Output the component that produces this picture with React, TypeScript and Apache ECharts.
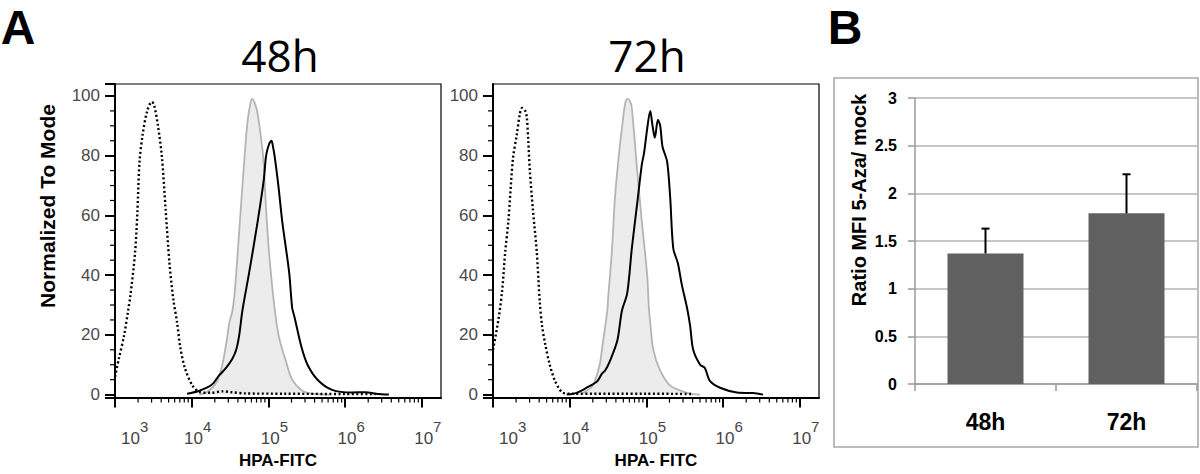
import React, { useEffect, useRef } from "react";
import * as echarts from "echarts";

// ---------- Panel A: histogram axes (x in log10 units of HPA-FITC) ----------
const decadeTicks = [3, 4, 5, 6, 7];
const yTicksHist = [0, 20, 40, 60, 80, 100];
const yMinorHist = [5, 10, 15, 25, 30, 35, 45, 50, 55, 65, 70, 75, 85, 90, 95];

// 48h — [log10(HPA-FITC), % of mode]
const iso48 = [
  [3.0, 6], [3.05, 12], [3.12, 20], [3.17, 28], [3.2, 33], [3.26, 47], [3.29, 60], [3.32, 78],
  [3.36, 87], [3.42, 95], [3.48, 98], [3.51, 97], [3.56, 90], [3.61, 80], [3.66, 62], [3.71, 44],
  [3.76, 32], [3.81, 24], [3.85, 16], [3.91, 9], [4.01, 3], [4.11, 0.8], [4.25, 0.6], [4.4, 1.1],
  [4.52, 0.8], [4.7, 0.4], [5.2, 0.3], [6.0, 0.2], [6.4, 0.2],
];
const mock48 = [
  [4.1, 0], [4.19, 0.7], [4.32, 4], [4.39, 9], [4.45, 17], [4.49, 24], [4.53, 28], [4.56, 34],
  [4.62, 55], [4.69, 80], [4.73, 92], [4.77, 98], [4.79, 99], [4.83, 97], [4.86, 94], [4.93, 80],
  [4.97, 62], [5.01, 47], [5.08, 29], [5.14, 19], [5.23, 11], [5.31, 5], [5.44, 1.3], [5.57, 0.3],
  [5.79, 0],
];
const aza48 = [
  [3.94, 0.3], [4.1, 1.3], [4.26, 3.3], [4.36, 6.5], [4.45, 9], [4.53, 12], [4.58, 15], [4.62, 20],
  [4.66, 28], [4.75, 41], [4.86, 58], [4.94, 72], [4.97, 80], [5.01, 84], [5.04, 85], [5.06, 83],
  [5.08, 80], [5.13, 70], [5.18, 58], [5.27, 41], [5.31, 29], [5.34, 26], [5.43, 16], [5.51, 10],
  [5.64, 5], [5.83, 1.6], [6.09, 0.7], [6.27, 0.8], [6.4, 0.3], [6.57, 0],
];

// 72h
const iso72 = [
  [3.0, 15], [3.07, 25], [3.12, 35], [3.16, 48], [3.2, 58], [3.26, 79], [3.31, 87], [3.35, 94],
  [3.38, 96], [3.42, 95], [3.44, 93], [3.46, 85], [3.48, 75], [3.52, 62], [3.57, 48], [3.61, 31],
  [3.64, 23], [3.68, 17], [3.74, 10], [3.81, 4.5], [3.9, 0.8], [4.0, 0.3], [5.0, 0.3], [5.6, 0.2],
];
const mock72 = [
  [4.17, 0.5], [4.3, 3], [4.39, 10], [4.43, 17], [4.49, 28], [4.5, 32], [4.55, 48], [4.59, 66],
  [4.64, 80], [4.68, 89], [4.72, 97], [4.75, 99], [4.79, 98], [4.81, 96], [4.88, 75], [4.94, 58],
  [5.01, 40], [5.03, 30], [5.05, 24], [5.09, 15], [5.18, 8], [5.31, 3], [5.53, 0.6], [5.7, 0],
];
const aza72 = [
  [3.96, 0], [4.09, 0.6], [4.22, 2.3], [4.36, 4.5], [4.42, 7], [4.46, 8], [4.52, 11], [4.62, 18],
  [4.68, 28], [4.75, 34], [4.81, 49], [4.88, 64], [4.94, 77], [4.97, 81], [5.01, 89], [5.05, 95],
  [5.08, 90], [5.11, 86], [5.15, 92], [5.18, 90], [5.21, 83], [5.27, 78], [5.31, 66], [5.35, 49],
  [5.41, 44], [5.46, 37], [5.53, 29], [5.57, 23], [5.61, 15], [5.7, 10], [5.76, 9], [5.83, 4.5],
  [5.96, 2.3], [6.18, 0.7], [6.39, 0.5], [6.52, 0],
];

// ---------- Panel B ----------
const barCats = ["48h", "72h"];
const barVals = [1.37, 1.79];
const barErr = [0.26, 0.41];

const ARIAL = '"Liberation Sans", Arial, sans-serif';

// log-decade minor tick positions (axis scale, not data)
const logMinor: number[] = [];
for (let d = 3; d < 7.25; d++) {
  for (let k = 2; k <= 9; k++) {
    const v = d + Math.log10(k);
    if (v < 7.25) logMinor.push(v);
  }
}

const expLabel = (v: number) => {
  const e = Math.round(v);
  return e === 3 ? `{q| }{a|10}{b|${e}}` : `{p| }{a|10}{b|${e}}`;
};

function histAxes(gi: number, topTick: boolean, name: string) {
  const x = {
    type: "value",
    gridIndex: gi,
    min: 3,
    max: 7.25,
    interval: 1,
    name,
    nameLocation: "middle",
    nameGap: 54,
    nameTextStyle: { fontFamily: ARIAL, fontWeight: "bold", fontSize: 17, color: "#000" },
    axisLine: { onZero: false, lineStyle: { color: "#000", width: 2 } },
    axisTick: { customValues: decadeTicks, length: 10, lineStyle: { color: "#000", width: 2 } },
    axisLabel: {
      customValues: decadeTicks,
      formatter: expLabel,
      margin: 21,
      color: "#444",
      alignMinLabel: "left",
      rich: {
        p: { width: 12, fontSize: 17, lineHeight: 40 },
        q: { width: 6, fontSize: 17, lineHeight: 40 },
        a: { fontSize: 17, lineHeight: 40, fontFamily: ARIAL, color: "#444" },
        b: { fontSize: 15, lineHeight: 14, verticalAlign: "top", fontFamily: ARIAL, color: "#444" },
      },
    },
    splitLine: { show: false },
  };
  const yTickVals = topTick ? [-1, ...yTicksHist, 104] : [-1, ...yTicksHist];
  const y = {
    type: "value",
    gridIndex: gi,
    min: -1,
    max: 104,
    interval: 20,
    axisLine: { lineStyle: { color: "#000", width: 2 } },
    axisTick: { customValues: yTickVals, length: 10, lineStyle: { color: "#000", width: 2 } },
    axisLabel: {
      customValues: yTicksHist,
      margin: 15,
      color: "#4a4a4a",
      fontSize: 17,
      fontFamily: ARIAL,
    },
    splitLine: { show: false },
  };
  return { x, y };
}

function minorTicks(gi: number, dir: "x" | "y", values: number[]) {
  return {
    type: "custom",
    xAxisIndex: gi,
    yAxisIndex: gi,
    silent: true,
    clip: false,
    z: 5,
    data: values.map((v) => (dir === "x" ? [v, -1] : [3, v])),
    renderItem: (_p: any, api: any) => {
      const pt = api.coord([api.value(0), api.value(1)]);
      const shape =
        dir === "x"
          ? { x1: pt[0], y1: pt[1], x2: pt[0], y2: pt[1] + 5 }
          : { x1: pt[0] - 5, y1: pt[1], x2: pt[0], y2: pt[1] };
      return { type: "line", shape, style: { stroke: "#000", lineWidth: 1.2 } };
    },
  };
}

function histSeries(gi: number, iso: number[][], mock: number[][], aza: number[][]) {
  return [
    {
      type: "line",
      xAxisIndex: gi,
      yAxisIndex: gi,
      data: mock,
      smooth: 0.3,
      symbol: "none",
      lineStyle: { color: "#b4b4b4", width: 1.8 },
      areaStyle: { color: "#ececec", opacity: 1 },
      z: 2,
    },
    {
      type: "line",
      xAxisIndex: gi,
      yAxisIndex: gi,
      data: iso,
      smooth: 0.3,
      symbol: "none",
      lineStyle: { color: "#000", width: 2.4, type: [2, 2.5] },
      z: 3,
    },
    {
      type: "line",
      xAxisIndex: gi,
      yAxisIndex: gi,
      data: aza,
      smooth: 0.3,
      symbol: "none",
      lineStyle: { color: "#000", width: 2 },
      z: 4,
    },
  ];
}

export default function App() {
  const ref = useRef<HTMLDivElement>(null);
  useEffect(() => {
    if (!ref.current) return;
    const chart = echarts.init(ref.current, undefined, { renderer: "svg" });
    const a0 = histAxes(0, true, "HPA-FITC");
    const a1 = histAxes(1, false, "HPA- FITC");

    const option: any = {
      animation: false,
      backgroundColor: "#fff",
      grid: [
        { left: 115, top: 84, width: 326, height: 326, show: true, borderColor: "#000", borderWidth: 1.2, backgroundColor: "transparent" },
        { left: 493, top: 84, width: 326, height: 326, show: true, borderColor: "#000", borderWidth: 1.2, backgroundColor: "transparent" },
        { left: 915, top: 98, width: 282, height: 286 },
      ],
      xAxis: [
        a0.x,
        a1.x,
        {
          type: "category",
          gridIndex: 2,
          data: barCats,
          axisLine: { lineStyle: { color: "#9a9a9a", width: 1.5 } },
          axisTick: { show: true, length: 7, lineStyle: { color: "#9a9a9a", width: 1.5 } },
          axisLabel: { fontFamily: ARIAL, fontWeight: "bold", fontSize: 23, color: "#000", margin: 26 },
        },
      ],
      yAxis: [
        a0.y,
        a1.y,
        {
          type: "value",
          gridIndex: 2,
          min: 0,
          max: 3,
          interval: 0.5,
          axisLine: { show: true, lineStyle: { color: "#9a9a9a", width: 1.5 } },
          axisTick: { show: true, length: 7, lineStyle: { color: "#9a9a9a", width: 1.5 } },
          axisLabel: {
            show: true,
            fontFamily: ARIAL,
            fontWeight: "bold",
            fontSize: 16,
            color: "#000",
            margin: 18,
          },
          splitLine: { lineStyle: { color: "#b5b5b5", width: 1.5 } },
        },
      ],
      series: [
        ...histSeries(0, iso48, mock48, aza48),
        ...histSeries(1, iso72, mock72, aza72),
        minorTicks(0, "x", logMinor),
        minorTicks(1, "x", logMinor),
        minorTicks(0, "y", yMinorHist),
        minorTicks(1, "y", yMinorHist),
        {
          type: "bar",
          xAxisIndex: 2,
          yAxisIndex: 2,
          data: barVals,
          barWidth: 76,
          itemStyle: { color: "#606060" },
          z: 2,
        },
        {
          type: "custom",
          xAxisIndex: 2,
          yAxisIndex: 2,
          z: 3,
          data: barVals.map((v, i) => [i, v, barErr[i]]),
          renderItem: (_p: any, api: any) => {
            const i = api.value(0);
            const v = api.value(1);
            const e = api.value(2);
            const base = api.coord([i, v]);
            const top = api.coord([i, v + e]);
            return {
              type: "group",
              children: [
                { type: "line", shape: { x1: base[0], y1: base[1], x2: top[0], y2: top[1] }, style: { stroke: "#000", lineWidth: 2 } },
                { type: "line", shape: { x1: top[0] - 4, y1: top[1], x2: top[0] + 4, y2: top[1] }, style: { stroke: "#000", lineWidth: 2 } },
              ],
            };
          },
        },
      ],
      graphic: [
        { type: "text", x: 18, y: 27, style: { text: "A", fontFamily: ARIAL, fontWeight: "bold", fontSize: 48, fill: "#000", align: "center", verticalAlign: "middle" } },
        { type: "text", x: 845, y: 27, style: { text: "B", fontFamily: ARIAL, fontWeight: "bold", fontSize: 48, fill: "#000", align: "center", verticalAlign: "middle" } },
        { type: "text", x: 280, y: 55, style: { text: "48h", fontFamily: '"Open Sans", sans-serif', fontSize: 44, fill: "#000", align: "center", verticalAlign: "middle" } },
        { type: "text", x: 647, y: 55, style: { text: "72h", fontFamily: '"Open Sans", sans-serif', fontSize: 44, fill: "#000", align: "center", verticalAlign: "middle" } },
        { type: "text", x: 47, y: 206, rotation: Math.PI / 2, style: { text: "Normalized To Mode", fontFamily: ARIAL, fontWeight: "bold", fontSize: 21, fill: "#000", align: "center", verticalAlign: "middle" } },
        { type: "text", x: 859, y: 200, rotation: Math.PI / 2, style: { text: "Ratio MFI 5-Aza/ mock", fontFamily: ARIAL, fontWeight: "bold", fontSize: 20, fill: "#000", align: "center", verticalAlign: "middle" } },
        { type: "rect", shape: { x: 834, y: 78, width: 364, height: 369 }, style: { fill: "none", stroke: "#a6a6a6", lineWidth: 1.5 }, z: -1 },
      ],
    };
    chart.setOption(option);
    return () => chart.dispose();
  }, []);
  return (
    <div
      ref={ref}
      style={{ position: "absolute", left: 0, top: 0, width: 1200, height: 474, background: "#fff" }}
    />
  );
}
